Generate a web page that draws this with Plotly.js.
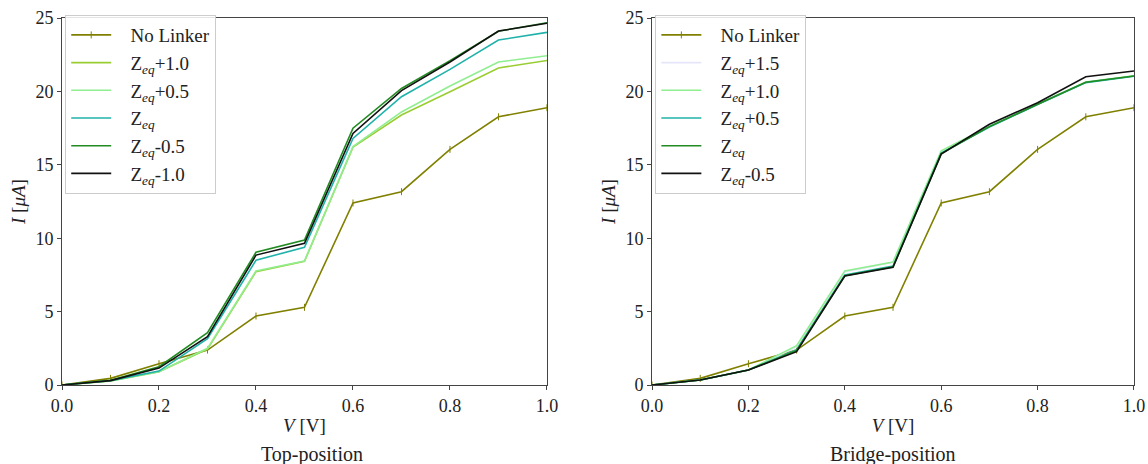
<!DOCTYPE html>
<html><head><meta charset="utf-8">
<script src="https://cdn.plot.ly/plotly-3.0.1.min.js"></script>
<style>body{margin:0;background:#fff}#c{width:1148px;height:464px}</style>
</head><body><div id="c"></div>
<script>
const voltage = [0.0,0.1,0.2,0.3,0.4,0.5,0.6,0.7,0.8,0.9,1.0];

// Top-position
const topNoLinker = [0,0.45,1.45,2.38,4.7,5.29,12.4,13.17,16.05,18.27,18.89];
const topZp10 = [0,0.28,0.9,2.45,7.72,8.42,16.2,18.39,19.98,21.6,22.1];
const topZp05 = [0,0.28,0.9,2.5,7.77,8.45,16.24,18.6,20.37,22.0,22.43];
const topZeq  = [0,0.3,0.95,3.15,8.5,9.38,16.8,19.64,21.5,23.5,24.02];
const topZm05 = [0,0.32,1.25,3.56,9.04,9.88,17.49,20.2,22.1,24.1,24.68];
const topZm10 = [0,0.3,1.15,3.3,8.85,9.65,17.14,20.05,22.0,24.11,24.64];

// Bridge-position
const brNoLinker = [0,0.45,1.45,2.38,4.7,5.29,12.4,13.17,16.05,18.27,18.89];
const brZp15 = [0,0.34,1.02,2.6,7.7,8.35,15.9,17.6,19.12,20.62,21.05];
const brZp10 = [0,0.34,1.02,2.68,7.77,8.38,15.96,17.62,19.14,20.64,21.07];
const brZp05 = [0,0.34,1.02,2.4,7.5,8.1,15.8,17.58,19.1,20.6,21.03];
const brZeq  = [0,0.34,1.02,2.35,7.45,8.05,15.76,17.6,19.12,20.62,21.05];
const brZm05 = [0,0.34,1.02,2.27,7.42,8.02,15.73,17.76,19.23,21.0,21.39];

const PAD = '\u00a0\u00a0\u00a0';
const topNames = ['No Linker','Z<sub><i>eq</i></sub>+1.0','Z<sub><i>eq</i></sub>+0.5','Z<sub><i>eq</i></sub>','Z<sub><i>eq</i></sub>-0.5','Z<sub><i>eq</i></sub>-1.0'];
const brNames = ['No Linker','Z<sub><i>eq</i></sub>+1.5','Z<sub><i>eq</i></sub>+1.0','Z<sub><i>eq</i></sub>+0.5','Z<sub><i>eq</i></sub>','Z<sub><i>eq</i></sub>-0.5'];
const topColors = ['#808000','#9acd32','#90ee90','#20b2aa','#228b22','#111111'];
const brColors = ['#808000','#e6e6fa','#90ee90','#20b2aa','#228b22','#111111'];

const topSeries = [topNoLinker,topZp10,topZp05,topZeq,topZm05,topZm10];
const brSeries = [brNoLinker,brZp15,brZp10,brZp05,brZeq,brZm05];

const FONT = '"Liberation Serif", "DejaVu Serif", serif';
const traces = [];
topSeries.forEach((s,i)=>traces.push({
  x: voltage, y: s, name: PAD + topNames[i], type:'scatter',
  mode: i===0 ? 'lines+markers' : 'lines',
  marker: {symbol:'line-ns', size:5, line:{color:topColors[i], width:1}},
  line: {color: topColors[i], width: 1.6},
  xaxis:'x', yaxis:'y', legend:'legend'
}));
brSeries.forEach((s,i)=>traces.push({
  x: voltage, y: s, name: PAD + brNames[i], type:'scatter',
  mode: i===0 ? 'lines+markers' : 'lines',
  marker: {symbol:'line-ns', size:5, line:{color:brColors[i], width:1}},
  line: {color: brColors[i], width: 1.6},
  xaxis:'x2', yaxis:'y2', legend:'legend2'
}));

const ax = {
  showgrid:false, zeroline:false, showline:true, mirror:true,
  linecolor:'#444', linewidth:1, ticks:'outside', ticklen:4, tickcolor:'#444',
  tickfont:{family:FONT, size:18, color:'#222'}
};
const legendBase = {
  yanchor:'top', y:1.008, xanchor:'left',
  bgcolor:'rgba(255,255,255,0.85)', bordercolor:'#ccc', borderwidth:1,
  font:{family:FONT, size:19, color:'#222'}, tracegroupgap:0, itemwidth:40
};

const layout = {
  width:1148, height:464,
  font:{family:FONT, size:18, color:'#222'},
  margin:{l:62, r:14, t:18, b:79},
  paper_bgcolor:'#fff', plot_bgcolor:'#fff',
  showlegend:true,
  xaxis: Object.assign({}, ax, {domain:[0,0.4524], range:[0,1], tickvals:[0,0.2,0.4,0.6,0.8,1.0], ticktext:['0.0','0.2','0.4','0.6','0.8','1.0'],
    title:{text:'<i>V</i> [V]', font:{family:FONT,size:19,color:'#222'}, standoff:4}}),
  yaxis: Object.assign({}, ax, {range:[0,25], tickvals:[0,5,10,15,20,25],
    title:{text:'<i>I</i> [<i>μA</i>]', font:{family:FONT,size:19,color:'#222'}, standoff:4}}),
  xaxis2: Object.assign({}, ax, {domain:[0.5504,1], range:[0,1], anchor:'y2', tickvals:[0,0.2,0.4,0.6,0.8,1.0], ticktext:['0.0','0.2','0.4','0.6','0.8','1.0'],
    title:{text:'<i>V</i> [V]', font:{family:FONT,size:19,color:'#222'}, standoff:4}}),
  yaxis2: Object.assign({}, ax, {range:[0,25], anchor:'x2', tickvals:[0,5,10,15,20,25],
    title:{text:'<i>I</i> [<i>μA</i>]', font:{family:FONT,size:19,color:'#222'}, standoff:4}}),
  legend: Object.assign({}, legendBase, {x:0.003}),
  legend2: Object.assign({}, legendBase, {x:0.5535}),
  annotations:[
    {text:'Top-position', xref:'paper', yref:'paper', x:(312-62)/1072, y:(385-454)/367, xanchor:'center', yanchor:'middle', showarrow:false, font:{family:FONT,size:20,color:'#222'}},
    {text:'Bridge-position', xref:'paper', yref:'paper', x:(893-62)/1072, y:(385-454)/367, xanchor:'center', yanchor:'middle', showarrow:false, font:{family:FONT,size:20,color:'#222'}}
  ]
};
Plotly.newPlot('c', traces, layout, {displayModeBar:false, staticPlot:true});
</script></body></html>
